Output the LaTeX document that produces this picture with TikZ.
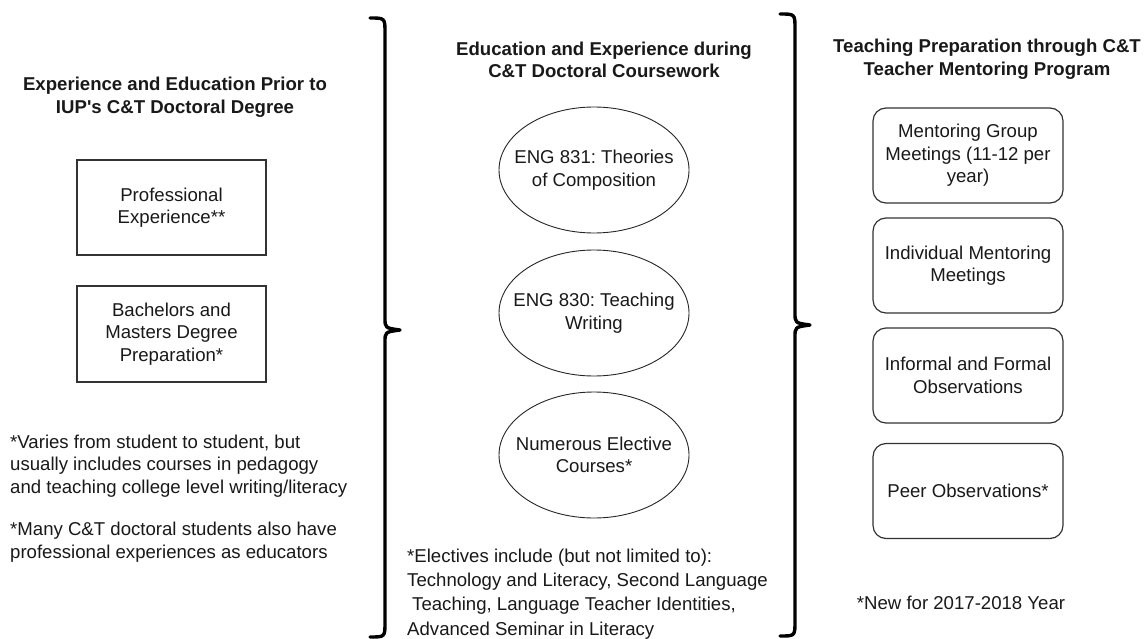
\documentclass[tikz,border=0pt]{standalone}
\usepackage{fontspec}
\setmainfont{Liberation Sans}[Ligatures=TeXOff]
\usetikzlibrary{shapes.geometric}
\frenchspacing
\begin{document}
\begin{tikzpicture}[x=1pt,y=-1pt,
  txt/.style={font=\fontsize{18.6}{22.5}\selectfont, text=black!90, inner sep=0pt},
  heading/.style={txt, font=\fontsize{18.6}{22.5}\selectfont\bfseries, align=center},
  sqbox/.style={txt, draw=black!80, line width=1.4pt, minimum width=189pt, align=center},
  rbox/.style={txt, draw=black!80, line width=1.2pt, rounded corners=13pt, minimum width=190pt, minimum height=95pt, align=center},
  course/.style={draw=black!85, line width=0.9pt, ellipse, inner sep=0pt, minimum width=190pt, minimum height=126pt},
  label/.style={txt, align=center},
  note/.style={txt, align=left},
  bracket/.style={draw=black, line width=3.4pt, line cap=round, line join=round}
]
\useasboundingbox[fill=white] (0,0) rectangle (1147,639);

% column 1: prior education and experience
\node[heading] (h1) at (175,97) {Experience and Education Prior to\\IUP's C\&T Doctoral Degree};
\node[sqbox, minimum height=95pt] (pro) at (171.5,207.5) {Professional\\Experience**};
\node[sqbox, minimum height=96pt] (deg) at (171.5,334) {Bachelors and\\Masters Degree\\Preparation*};
\node[note, anchor=west] (n1) at (10,466) {*Varies from student to student, but\\usually includes courses in pedagogy\\and teaching college level writing/literacy};
\node[note, anchor=west] (n2) at (10,542) {*Many C\&T doctoral students also have\\professional experiences as educators};

% first bracket
\coordinate (b1t) at (370,18);
\coordinate (b1m) at (400,330);
\coordinate (b1b) at (370,637);
\draw[bracket] (b1t) .. controls (385,18) .. (385,33) -- (385,318)
  .. controls (385,328) .. (b1m)
  .. controls (385,332) .. (385,342) -- (385,622)
  .. controls (385,637) .. (b1b);

% column 2: coursework
\node[heading] (h2) at (604,60) {Education and Experience during\\C\&T Doctoral Coursework};
\node[course] (c831) at (594,170) {};
\node[label] (c831t) at (c831.center) {ENG 831: Theories\\of Composition};
\node[course] (c830) at (594,313) {};
\node[label] (c830t) at (c830.center) {ENG 830: Teaching\\Writing};
\node[course] (elec) at (594,455) {};
\node[label] (elect) at (elec.center) {Numerous Elective\\Courses*};
\node[note, anchor=west, font=\fontsize{18.6}{24.3}\selectfont] (n3) at (407,594) {*Electives include (but not limited to):\\Technology and Literacy, Second Language\\\hspace*{5pt}Teaching, Language Teacher Identities,\\Advanced Seminar in Literacy};

% second bracket
\coordinate (b2t) at (780,14);
\coordinate (b2m) at (810,325);
\coordinate (b2b) at (780,636);
\draw[bracket] (b2t) .. controls (795,14) .. (795,29) -- (795,313)
  .. controls (795,323) .. (b2m)
  .. controls (795,327) .. (795,337) -- (795,621)
  .. controls (795,636) .. (b2b);

% column 3: mentoring program
\node[heading] (h3) at (987,59) {Teaching Preparation through C\&T\\Teacher Mentoring Program};
\node[rbox] (grp) at (968,155.5) {Mentoring Group\\Meetings (11-12 per\\year)};
\node[rbox] (ind) at (968,265.5) {Individual Mentoring\\Meetings};
\node[rbox] (obs) at (968,375.5) {Informal and Formal\\Observations};
\node[rbox] (peer) at (968,491) {Peer Observations*};
\node[note] (n4) at (961,603) {*New for 2017-2018 Year};
\end{tikzpicture}
\end{document}
